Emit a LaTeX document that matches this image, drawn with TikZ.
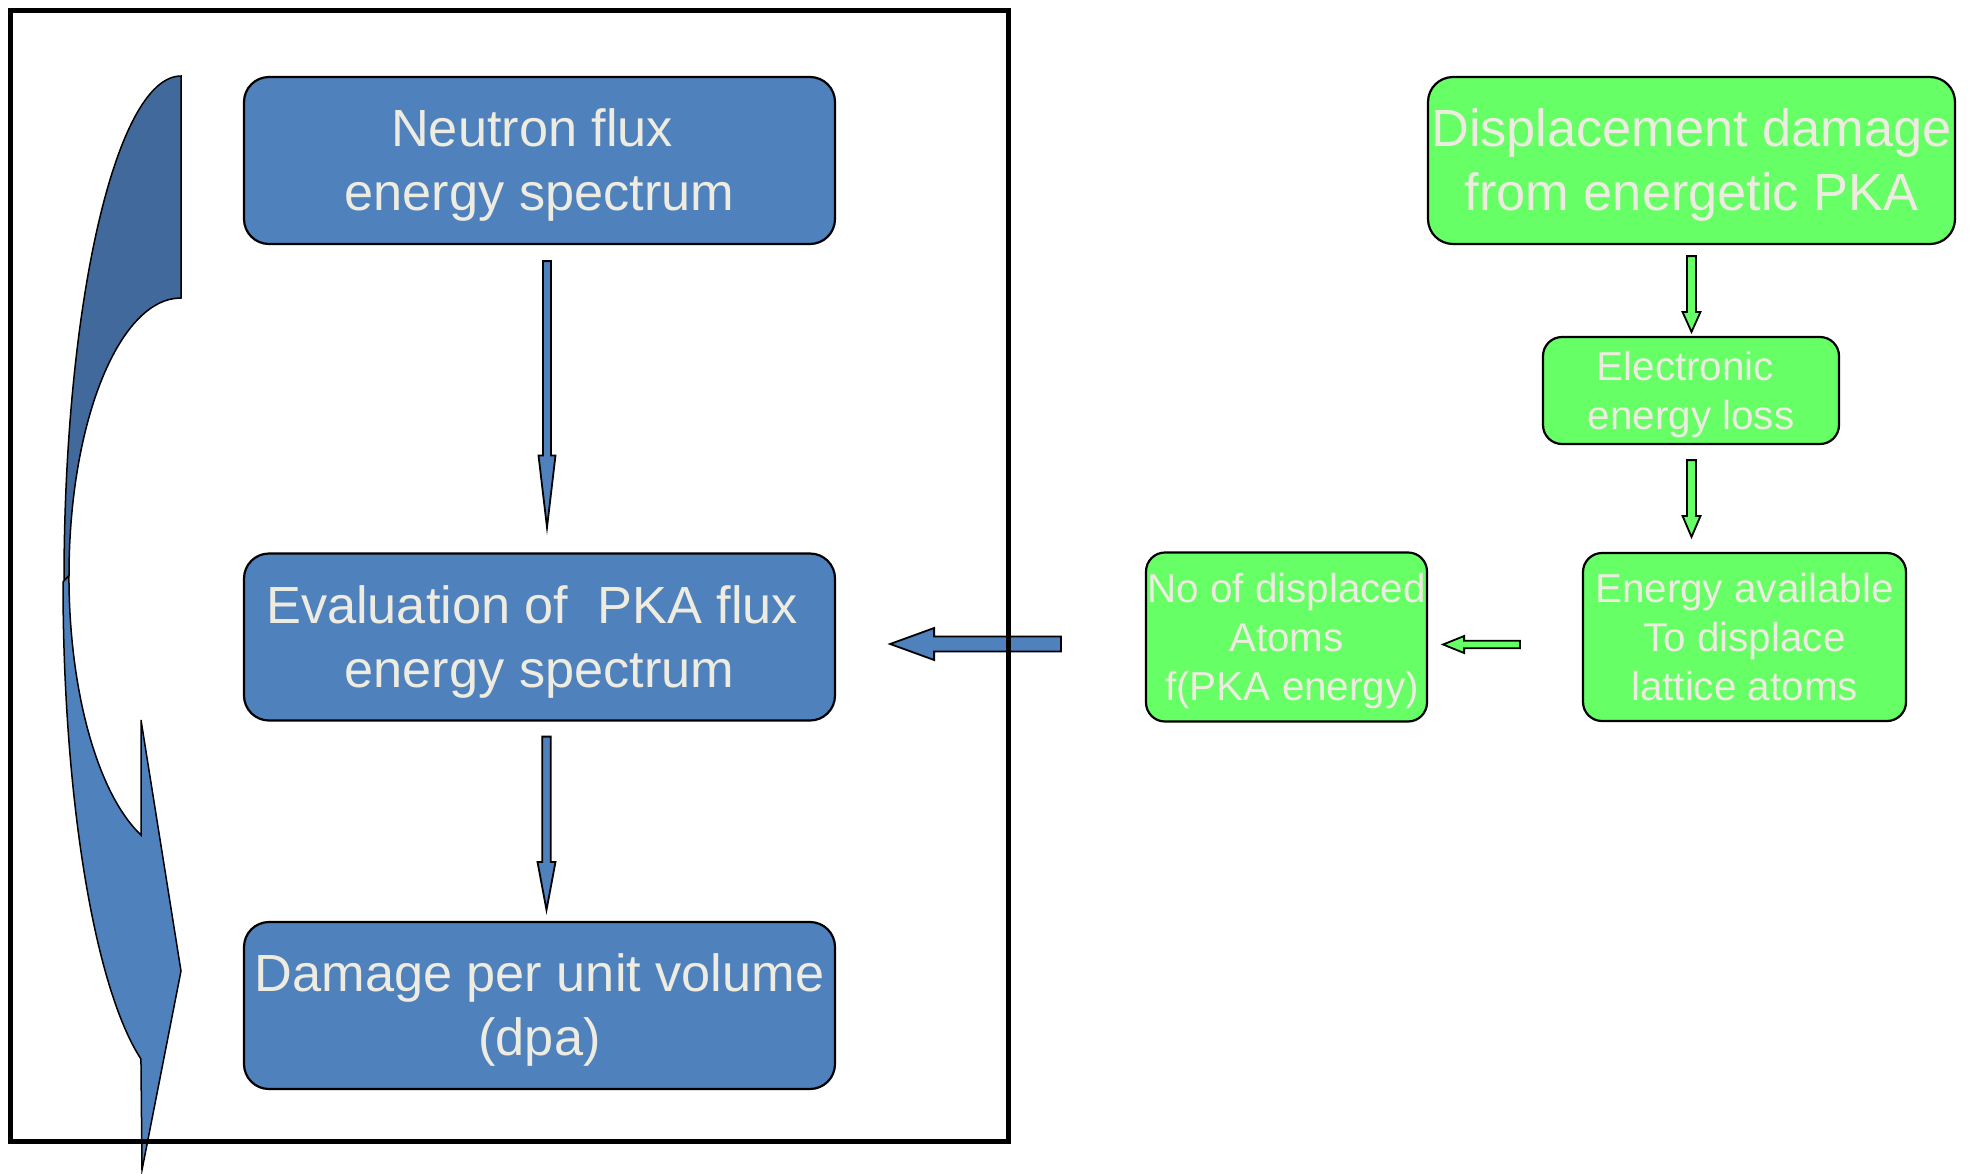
\documentclass[tikz,border=0pt]{standalone}
\usepackage{fontspec}
\setmainfont{Liberation Sans}
\usetikzlibrary{calc}
\definecolor{pblue}{HTML}{4F81BD}
\definecolor{pbluedark}{RGB}{65,105,155}
\definecolor{pgreen}{HTML}{66FF66}
\definecolor{ptext}{HTML}{EEECE1}

% line strut with the ascent and descent of the font
\newcommand{\boxstrut}{\rule[-0.212em]{0pt}{1.117em}}
% block arrows: #1 style, #2 tail, #3 tip, #4 half shaft, #5 half head, #6 head length
\newcommand{\blockdown}[6]{\draw[#1] ($(#2)+(-#4,0)$) -- ($(#2)+(#4,0)$) -- ($(#3)+(#4,-#6)$) -- ($(#3)+(#5,-#6)$) -- (#3) -- ($(#3)+(-#5,-#6)$) -- ($(#3)+(-#4,-#6)$) -- cycle;}
\newcommand{\blockleft}[6]{\draw[#1] ($(#2)+(0,-#4)$) -- ($(#2)+(0,#4)$) -- ($(#3)+(#6,#4)$) -- ($(#3)+(#6,#5)$) -- (#3) -- ($(#3)+(#6,-#5)$) -- ($(#3)+(#6,-#4)$) -- cycle;}

\begin{document}
\begin{tikzpicture}[x=0.5pt, y=-0.5pt,
 box/.style={draw, line width=1.1pt, rounded corners=12.5pt, inner sep=0pt, align=center, text=ptext},
 big/.style={box, minimum width=295.5pt, minimum height=83.5pt, font=\fontsize{26.15}{32}\selectfont},
 small/.style={box, rounded corners=9.5pt, font=\fontsize{20.2}{24.5}\selectfont},
 bl/.style={fill=pblue}, gr/.style={fill=pgreen},
 barr/.style={draw, line width=0.9pt, fill=pblue, line join=miter},
 garr/.style={draw, line width=0.9pt, fill=pgreen, line join=miter}]
\useasboundingbox (0,0) rectangle (1969,1173);

% curved arrow on the left
\draw[line width=0.75pt, fill=pbluedark] (181,76) arc[start angle=90, end angle=180, x radius=58.5pt, y radius=253pt]
 -- (69,575.7) arc[start angle=180, end angle=90, x radius=56pt, y radius=138.85pt] -- cycle;
\draw[line width=0.75pt, fill=pblue, line join=miter] (63,582) arc[start angle=180, end angle=250.5, x radius=58.5pt, y radius=253pt]
 -- (142,1170) -- (181,971) -- (141,720) -- (141,835) arc[start angle=249.1, end angle=180, x radius=56pt, y radius=138.85pt] -- cycle;

% boxes
\node[big,bl] (nf) at (539.5,160.5) {\boxstrut Neutron flux\hspace*{.28em}\\energy spectrum\boxstrut};
\node[big,bl] (ev) at (539.5,637) {\boxstrut Evaluation of~ PKA flux\hspace*{.28em}\\energy spectrum\boxstrut};
\node[big,bl] (dpa) at (539.5,1005.5) {\boxstrut Damage per unit volume\\(dpa)\boxstrut};
\node[big,gr,minimum width=263.5pt] (dd) at (1691.5,160.5) {\boxstrut Displacement damage\\from energetic PKA\boxstrut};
\node[small,gr,minimum width=148pt,minimum height=53.5pt] (el) at (1691,390.5) {\boxstrut Electronic\hspace*{.28em}\\energy loss\boxstrut};
\node[small,gr,minimum width=161.5pt,minimum height=84pt] (ea) at (1744.5,637) {\boxstrut Energy available\\To displace\\lattice atoms\boxstrut};
\node[small,gr,minimum width=140.5pt,minimum height=84.5pt] (nd) at (1286.5,637) {\boxstrut No of displaced\\Atoms\\\hspace*{.28em}f(PKA energy)\boxstrut};

% arrows
\coordinate (a1) at ($(nf.south)+(7.5,16)$);
\coordinate (a1t) at ($(ev.north)+(7.5,-25)$);
\coordinate (a2) at ($(ev.south)+(7,15)$);
\coordinate (a2t) at ($(dpa.north)+(7,-11)$);
\coordinate (a3) at ($(nd.west)+(-84,7)$);
\coordinate (a3t) at ($(ev.east)+(54,7)$);
\coordinate (g1) at ($(dd.south)+(0,11)$);
\coordinate (g1t) at ($(g1 |- el.north)+(0,-4)$);
\coordinate (g2) at ($(g1 |- el.south)+(0,15)$);
\coordinate (g2t) at ($(g1 |- ea.north)+(0,-15)$);
\coordinate (g3) at ($(ea.west)+(-62,7.5)$);
\coordinate (g3t) at ($(nd.east)+(15,7.5)$);
\blockdown{barr}{a1}{a1t}{4}{8.5}{72}
\blockdown{barr}{a2}{a2t}{4.3}{9}{48}
\blockleft{barr}{a3}{a3t}{7.5}{16}{44}
\blockdown{garr}{g1}{g1t}{4.5}{9}{20}
\blockdown{garr}{g2}{g2t}{4.5}{9}{21}
\blockleft{garr}{g3}{g3t}{3.7}{8.5}{21}

% frame
\draw[line width=2.5pt] (10.5,10.5) rectangle (1008,1141);
\end{tikzpicture}
\end{document}
